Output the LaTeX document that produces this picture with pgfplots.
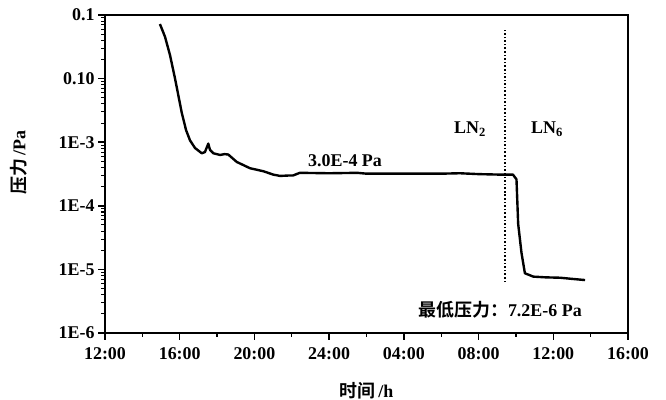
\documentclass[border=0pt]{standalone}
\usepackage{pgfplots}
\pgfplotsset{compat=1.18}
\usepackage{fontspec}
\setmainfont{Liberation Serif}
\newfontfamily\cjk{Noto Sans CJK SC}[BoldFont={Noto Sans CJK SC Bold}]
\begin{document}
\begin{tikzpicture}
\useasboundingbox (-105bp,-67bp) rectangle (561bp,333bp);
\begin{axis}[
  scale only axis,
  width=523bp, height=318bp,
  xmin=12, xmax=40,
  ymode=log, ymin=1e-6, ymax=0.1,
  xtick={12,16,20,24,28,32,36,40},
  xticklabels={12:00,16:00,20:00,24:00,04:00,08:00,12:00,16:00},
  minor xtick={},
  ytick={1e-6,1e-5,1e-4,1e-3,1e-2,1e-1},
  yticklabels={1E-6,1E-5,1E-4,1E-3,0.10,0.1},
  minor ytick={},
  tick align=outside,
  tick pos=left,
  major tick length=7bp,
  tick style={draw=none},
  axis line style={line width=2pt},
  tick label style={font=\fontsize{18}{20}\selectfont\bfseries},
  xticklabel style={yshift=-4bp},
  ylabel={\cjk\bfseries 压力\,\rmfamily/Pa},
  ylabel style={font=\fontsize{18}{20}\selectfont\bfseries, at={(axis description cs:-0.165,0.535)}, anchor=center, rotate=0},
  xlabel={\cjk\bfseries 时间\,\rmfamily/h},
  xlabel style={font=\fontsize{18}{20}\selectfont\bfseries, at={(axis description cs:0.5,-0.18)}, anchor=center},
  clip=false,
]
% axis ticks (outside, bottom and left)
\pgfplotsinvokeforeach{12,16,20,24,28,32,36,40}{
  \draw[black, line width=1.5pt] (axis cs:#1,1e-6) -- ([yshift=-7bp]axis cs:#1,1e-6);
}
\pgfplotsinvokeforeach{14,18,22,26,30,34,38}{
  \draw[black, line width=1.3pt] (axis cs:#1,1e-6) -- ([yshift=-4bp]axis cs:#1,1e-6);
}
\pgfplotsinvokeforeach{1e-6,1e-5,1e-4,1e-3,1e-2,1e-1}{
  \draw[black, line width=1.5pt] (axis cs:12,#1) -- ([xshift=-7bp]axis cs:12,#1);
}
\pgfplotsinvokeforeach{2,3,4,5,6,7,8,9}{
  \draw[black, line width=1.1pt] (axis cs:12,#1e-6) -- ([xshift=-4bp]axis cs:12,#1e-6);
  \draw[black, line width=1.1pt] (axis cs:12,#1e-5) -- ([xshift=-4bp]axis cs:12,#1e-5);
  \draw[black, line width=1.1pt] (axis cs:12,#1e-4) -- ([xshift=-4bp]axis cs:12,#1e-4);
  \draw[black, line width=1.1pt] (axis cs:12,#1e-3) -- ([xshift=-4bp]axis cs:12,#1e-3);
  \draw[black, line width=1.1pt] (axis cs:12,#1e-2) -- ([xshift=-4bp]axis cs:12,#1e-2);
}
\addplot[black, line width=2.4pt, line join=round] coordinates {
(14.94,0.072) (15.05,0.060) (15.21,0.0457) (15.48,0.0234) (15.75,0.0100) (16.11,2.9e-3)
(16.34,1.55e-3) (16.55,1.07e-3) (16.82,8.1e-4) (17.18,6.7e-4) (17.35,7.0e-4)
(17.53,9.5e-4) (17.62,7.6e-4) (17.80,6.7e-4) (18.16,6.3e-4) (18.4,6.5e-4) (18.6,6.4e-4)
(19.05,4.9e-4) (19.76,3.9e-4) (20.47,3.5e-4) (21.0,3.1e-4) (21.37,2.95e-4)
(21.9,3.0e-4) (22.07,3.0e-4) (22.43,3.3e-4) (24.0,3.25e-4) (25.5,3.3e-4) (26.0,3.2e-4)
(28.0,3.2e-4) (30.0,3.2e-4) (31.0,3.25e-4) (32.0,3.15e-4) (33.0,3.1e-4) (33.84,3.1e-4)
(34.03,2.6e-4) (34.12,5.2e-5) (34.30,1.8e-5) (34.48,8.7e-6) (34.93,7.7e-6)
(35.6,7.5e-6) (36.36,7.4e-6) (37.0,7.1e-6) (37.70,6.8e-6)
};
\addplot[black, line width=1.6pt, dotted] coordinates {(33.41,6.3e-6) (33.41,0.058)};
\node[font=\fontsize{18}{20}\selectfont\bfseries] at (axis cs:24.85,5.2e-4) {3.0E-4 Pa};
\node[font=\fontsize{18}{20}\selectfont\bfseries] at (axis cs:31.54,1.6e-3) {LN\textsubscript{2}};
\node[font=\fontsize{18}{20}\selectfont\bfseries] at (axis cs:35.66,1.6e-3) {LN\textsubscript{6}};
\node[font=\fontsize{18}{20}\selectfont\bfseries] at (axis cs:33.15,2.3e-6) {{\cjk\bfseries 最低压力：}7.2E-6 Pa};
\end{axis}
\end{tikzpicture}
\end{document}
